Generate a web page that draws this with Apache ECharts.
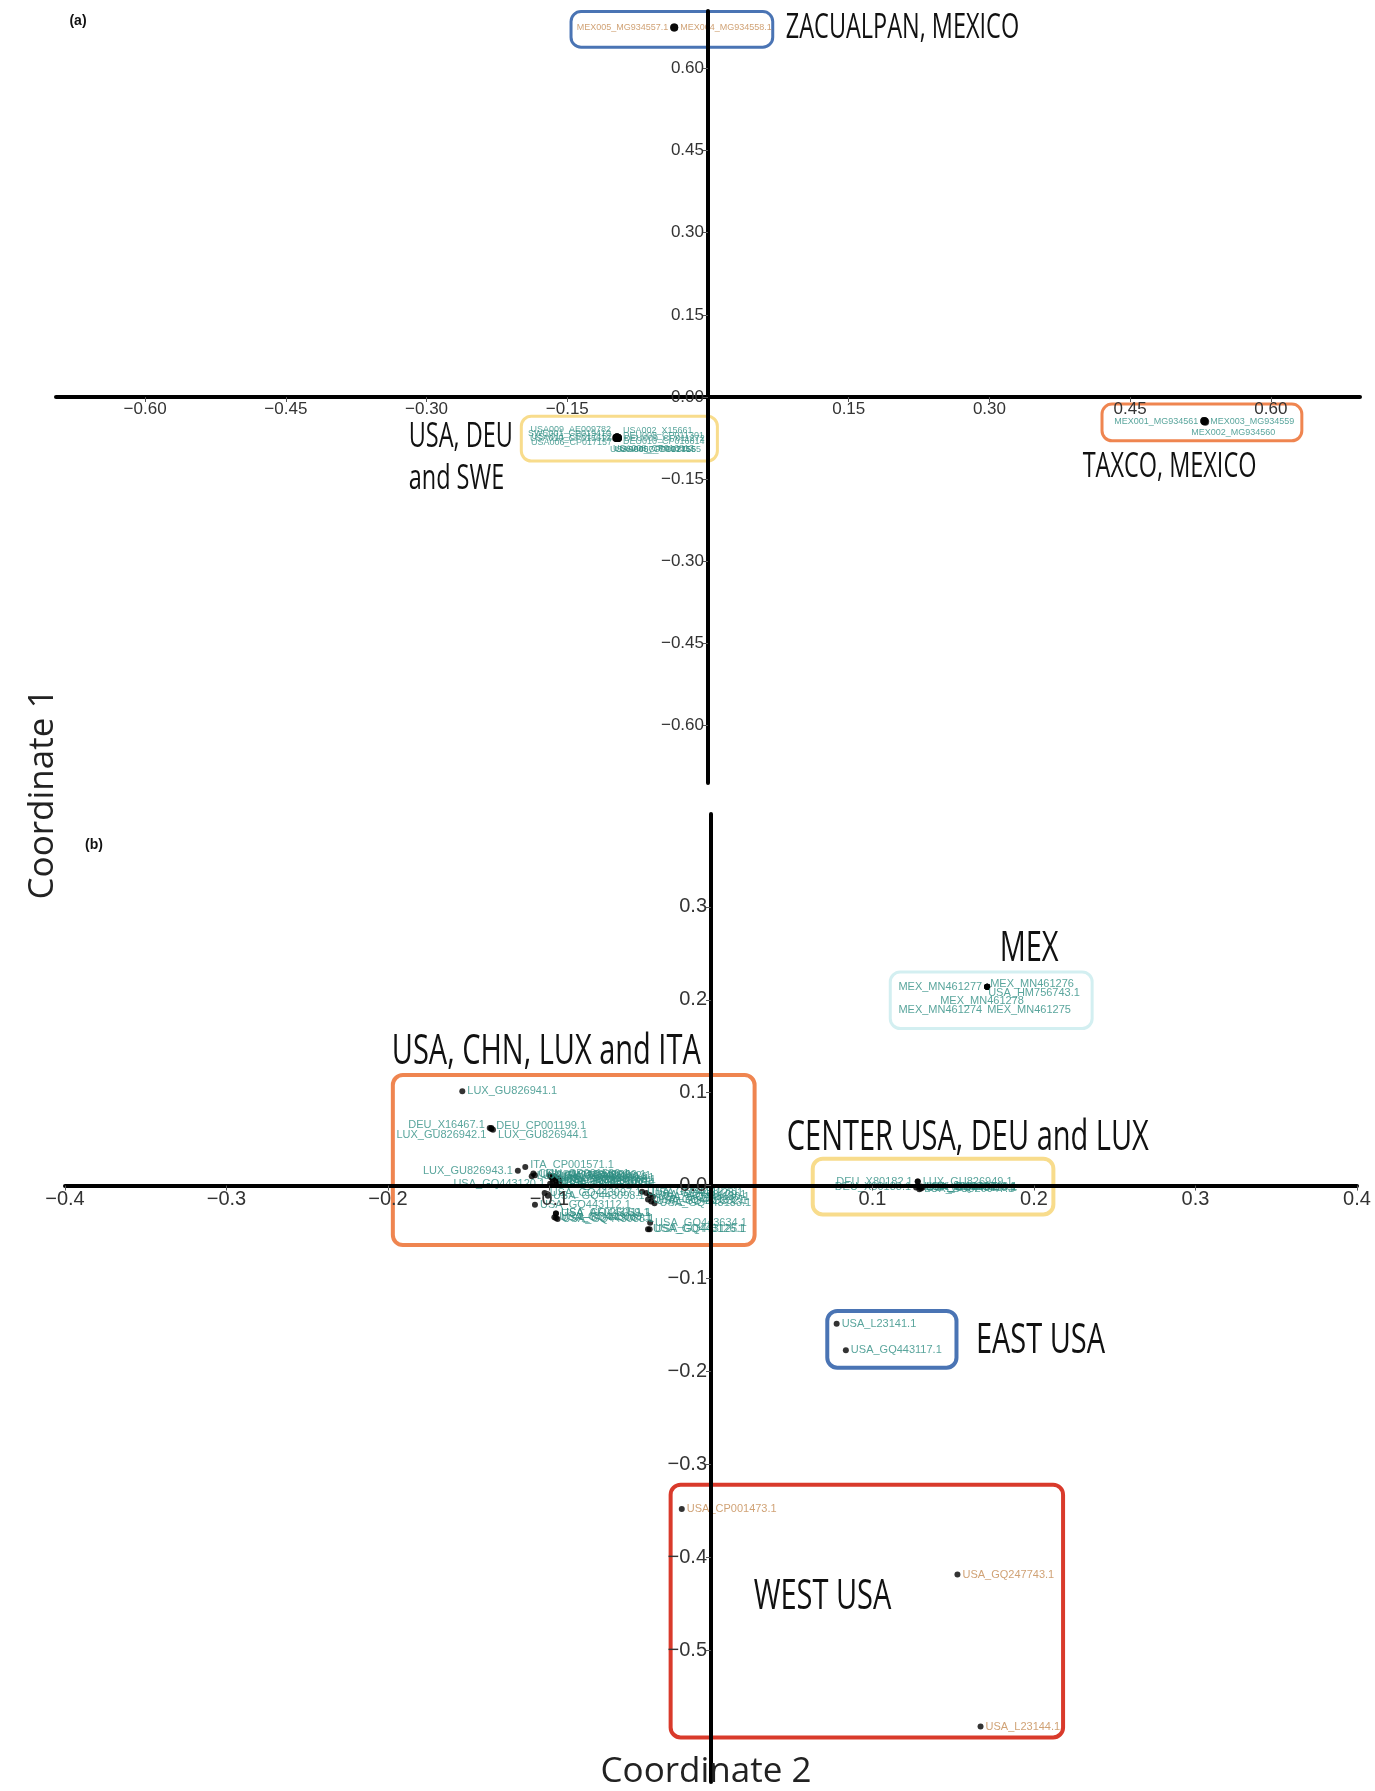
<!DOCTYPE html>
<html>
<head>
<meta charset="utf-8">
<title>MDS coordinates</title>
<script src="https://cdn.jsdelivr.net/npm/echarts@6/dist/echarts.min.js"></script>
<style>
  html, body { margin: 0; padding: 0; background: #ffffff; }
  #chart { width: 1375px; height: 1791px; }
</style>
</head>
<body>
<div id="chart"></div>
<script>
// ---------- Panel (a): tick values ----------
const aTicksC2 = [-0.60, -0.45, -0.30, -0.15, 0.15, 0.30, 0.45, 0.60];
const aTicksC1 = [-0.60, -0.45, -0.30, -0.15, 0.00, 0.15, 0.30, 0.45, 0.60];

// Panel (a): Zacualpan isolates
const aZacNames = ['MEX005_MG934557.1', 'MEX004_MG934558.1'];
const aZacC2 = [-0.036, -0.036];
const aZacC1 = [0.675, 0.675];

// Panel (a): Taxco isolates
const aTaxNames = ['MEX001_MG934561', 'MEX003_MG934559', 'MEX002_MG934560'];
const aTaxC2 = [0.529, 0.529, 0.530];
const aTaxC1 = [-0.044, -0.044, -0.045];

// Panel (a): USA, DEU and SWE isolates
const aNorNames = ['USA009_AE009782', 'SWE001_CP019410', 'USA011_CP017152', 'USA010_CP015612', 'USA006_CP017157',
                   'USA002_X15661', 'DEU008_CP011301', 'DEU009_CP011272', 'DEU010_CP016814',
                   'USA004_CP019245', 'USA005_CP017156', 'USA007_CP017155', 'USA008_CP016813'];
const aNorC2 = [-0.097, -0.097, -0.096, -0.097, -0.096,
                -0.097, -0.097, -0.096, -0.097,
                -0.098, -0.097, -0.096, -0.097];
const aNorC1 = [-0.074, -0.075, -0.075, -0.074, -0.075,
                -0.074, -0.075, -0.075, -0.074,
                -0.075, -0.074, -0.075, -0.075];

// ---------- Panel (b): tick values ----------
const bTicksC2 = [-0.4, -0.3, -0.2, -0.1, 0.1, 0.2, 0.3, 0.4];
const bTicksC1 = [-0.5, -0.4, -0.3, -0.2, -0.1, 0.0, 0.1, 0.2, 0.3];

// Panel (b): Mexican isolates
const bMexNames = ['MEX_MN461277', 'MEX_MN461276', 'USA_HM756743.1', 'MEX_MN461278', 'MEX_MN461274', 'MEX_MN461275'];
const bMexC2 = [0.171, 0.171, 0.171, 0.171, 0.171, 0.171];
const bMexC1 = [0.214, 0.214, 0.214, 0.214, 0.214, 0.214];

// Panel (b): USA, CHN, LUX and ITA isolates
const bMixNames = ['LUX_GU826941.1', 'DEU_X16467.1', 'DEU_CP001199.1', 'LUX_GU826942.1', 'LUX_GU826944.1',
                   'LUX_GU826943.1', 'ITA_CP001571.1', 'CHN_CP001580.1', 'USA_GQ443096.1', 'LUX_GU826945.1',
                   'USA_GQ443120.1',
                   'USA_GQ443099.1', 'USA_GQ443100.1', 'USA_GQ443101.1', 'USA_GQ443102.1', 'USA_GQ443103.1',
                   'USA_GQ443104.1', 'USA_GQ443105.1', 'USA_GQ443106.1', 'USA_GQ443107.1', 'USA_GQ443108.1',
                   'USA_GQ443097.1', 'USA_GQ443098.1',
                   'USA_GQ443112.1', 'USA_GQ443111.1', 'USA_AF026059.1',
                   'USA_GQ443087.1', 'USA_GQ443088.1', 'USA_GQ443089.1',
                   'USA_GQ443127.1', 'USA_GQ443128.1', 'USA_GQ443129.1', 'USA_GQ443130.1', 'USA_GQ443131.1',
                   'USA_GQ443132.1', 'USA_GQ443133.1',
                   'USA_GQ443634.1', 'USA_GQ443126.1', 'USA_GQ443125.1'];
const bMixC2 = [-0.154, -0.137, -0.136, -0.136, -0.135,
                -0.1196, -0.115, -0.110, -0.109, -0.111,
                -0.0996,
                -0.100, -0.099, -0.098, -0.097, -0.096,
                -0.095, -0.094, -0.098, -0.096, -0.094,
                -0.103, -0.101,
                -0.109, -0.096, -0.096,
                -0.096, -0.095, -0.097,
                -0.0427, -0.040, -0.038, -0.036, -0.039,
                -0.037, -0.035,
                -0.0377, -0.039, -0.038];
const bMixC1 = [0.1015, 0.062, 0.062, 0.061, 0.060,
                0.016, 0.020, 0.013, 0.011, 0.010,
                0.002,
                0.011, 0.009, 0.007, 0.010, 0.005,
                0.008, 0.003, 0.004, 0.001, 0.006,
                -0.008, -0.011,
                -0.0205, -0.030, -0.030,
                -0.035, -0.036, -0.034,
                -0.0065, -0.008, -0.010, -0.012, -0.015,
                -0.017, -0.019,
                -0.040, -0.047, -0.047];

// Panel (b): central USA, DEU and LUX isolates
const bCenNames = ['DEU_X80182.1', 'LUX_GU826949.1', 'DEU_X80183.1', 'USA_L23142.1', 'USA_GQ443113.1',
                   'LUX_GU826946.1', 'LUX_GU826947.1', 'LUX_GU826948.1'];
const bCenC2 = [0.128, 0.128, 0.127, 0.129, 0.130, 0.131, 0.129, 0.130];
const bCenC1 = [0.0043, 0.0043, -0.002, -0.001, -0.003, -0.002, -0.004, -0.001];

// Panel (b): eastern USA isolates
const bEastNames = ['USA_L23141.1', 'USA_GQ443117.1'];
const bEastC2 = [0.0778, 0.0835];
const bEastC1 = [-0.1486, -0.1773];

// Panel (b): western USA isolates
const bWestNames = ['USA_CP001473.1', 'USA_GQ247743.1', 'USA_L23144.1'];
const bWestC2 = [-0.0181, 0.1526, 0.1669];
const bWestC1 = [-0.348, -0.4187, -0.5823];

// ---------- label placement (side of the point, pixel nudge) ----------
const aZacSide = ['L', 'R'];
const aTaxSide = ['L', 'R', 'R'];
const aTaxNudge = [[0, 0], [0, 0], [-20, 11]];
const aNorSide = ['L', 'L', 'L', 'L', 'L', 'R', 'R', 'R', 'R', 'R', 'R', 'R', 'R'];
const aNorNudge = [[0, -8], [0, -5], [0, -2], [0, 1], [0, 4],
                   [0, -7], [0, -3], [0, 0], [0, 4],
                   [-12, 11], [-8, 12], [-4, 11], [-10, 10]];
const bMexSide = ['L', 'R', 'R', 'R', 'L', 'R'];
const bMexNudge = [[0, 0], [-2, -3], [-4, 6], [-52, 14], [0, 23], [-5, 23]];
const bMixSide = ['R', 'L', 'R', 'L', 'R', 'L', 'R', 'R', 'R', 'R', 'L'];
const bMixNudge = [[0, 0], [0, -3], [0, -2], [0, 6], [0, 5], [0, 0], [0, -2]];
const bCenSide = ['L', 'R', 'L'];

// ---------- annotation boxes and group titles (data units) ----------
const BLUE = '#4a74b4', ORANGE = '#ef8550', YELLOW = '#f8dc8c', CYAN = '#d3eff1', RED = '#d93a2b';
const boxes = [
  { p: 0, x: [-0.146, 0.069], y: [0.639, 0.704], c: BLUE, w: 3 },
  { p: 0, x: [0.420, 0.633], y: [-0.080, -0.013], c: ORANGE, w: 3 },
  { p: 0, x: [-0.199, 0.010], y: [-0.117, -0.035], c: YELLOW, w: 3 },
  { p: 1, x: [-0.197, 0.027], y: [-0.064, 0.119], c: ORANGE, w: 4 },
  { p: 1, x: [0.111, 0.236], y: [0.169, 0.230], c: CYAN, w: 3 },
  { p: 1, x: [0.063, 0.212], y: [-0.031, 0.029], c: YELLOW, w: 4 },
  { p: 1, x: [0.072, 0.152], y: [-0.196, -0.135], c: BLUE, w: 4 },
  { p: 1, x: [-0.025, 0.218], y: [-0.594, -0.322], c: RED, w: 4 }
];
const titles = [
  { p: 0, t: 'ZACUALPAN, MEXICO', x: 0.083, y: 0.673, a: 'left' },
  { p: 0, t: 'TAXCO, MEXICO', x: 0.492, y: -0.128, a: 'center' },
  { p: 0, t: 'USA, DEU', x: -0.319, y: -0.073, a: 'left' },
  { p: 0, t: 'and SWE', x: -0.319, y: -0.151, a: 'left' },
  { p: 1, t: 'MEX', x: 0.197, y: 0.255, a: 'center' },
  { p: 1, t: 'USA, CHN, LUX and ITA', x: -0.102, y: 0.144, a: 'center' },
  { p: 1, t: 'CENTER USA, DEU and LUX', x: 0.159, y: 0.051, a: 'center' },
  { p: 1, t: 'EAST USA', x: 0.204, y: -0.167, a: 'center' },
  { p: 1, t: 'WEST USA', x: 0.069, y: -0.443, a: 'center' }
];
const titleSize = [34, 42];

const TEAL = '#2f8f83';
const BROWN = '#c48b52';
const LABEL_FONT = '"Liberation Sans", Arial, sans-serif';
const TITLE_FONT = '"Open Sans", "Noto Sans", sans-serif';

const fmt = (d) => (v) => (v < 0 ? '\u2212' : '') + Math.abs(v).toFixed(d);

function pointSeries(panel, names, c2, c1, side, nudge, color, fontSize, symbolSize) {
  return {
    type: 'scatter',
    xAxisIndex: panel,
    yAxisIndex: panel,
    z: 2,
    symbolSize: symbolSize,
    itemStyle: { color: '#000000' },
    label: { show: true, formatter: '{b}', color: color, fontSize: fontSize, fontFamily: LABEL_FONT, distance: 2 },
    emphasis: { disabled: true },
    data: names.map((n, i) => ({
      name: n,
      value: [c2[i], c1[i]],
      label: {
        position: (side && side[i] === 'L') ? 'left' : 'right',
        offset: (nudge && nudge[i]) ? nudge[i] : [0, 0]
      }
    }))
  };
}

// The axes cross at the origin: each axis is shifted from the grid edge to
// the zero of the other axis, so that its ticks and labels travel with it.
function axisPair(panel, grid, cfg) {
  const common = {
    type: 'value',
    gridIndex: panel,
    z: 5,
    splitLine: { show: false },
    axisLine: { onZero: false, lineStyle: { color: '#000000', width: 4 } },
    axisTick: { length: 5, lineStyle: { color: '#555555', width: 1 } }
  };
  const xShift = grid.height * (0 - cfg.yMin) / (cfg.yMax - cfg.yMin);
  const yShift = grid.width * (0 - cfg.xMin) / (cfg.xMax - cfg.xMin);
  const x = Object.assign({}, common, {
    position: 'bottom', offset: -xShift,
    min: cfg.xMin, max: cfg.xMax,
    axisTick: Object.assign({}, common.axisTick, { customValues: cfg.xTicks }),
    axisLabel: { customValues: cfg.xTicks, formatter: fmt(cfg.dec), color: '#333333', fontSize: cfg.fs, fontFamily: LABEL_FONT, margin: 4 }
  });
  const y = Object.assign({}, common, {
    position: 'left', offset: -yShift,
    min: cfg.yMin, max: cfg.yMax,
    axisTick: Object.assign({}, common.axisTick, { customValues: cfg.yTicks }),
    axisLabel: { customValues: cfg.yTicks, formatter: fmt(cfg.dec), color: '#333333', fontSize: cfg.fs, fontFamily: LABEL_FONT, margin: 4 }
  });
  return [x, y];
}

const gridA = { left: 56, width: 1304, top: 11, height: 772 };
const gridB = { left: 65, width: 1292, top: 814, height: 968 };

const [ax0, ay0] = axisPair(0, gridA, { xMin: -0.695, xMax: 0.695, yMin: -0.705, yMax: 0.705, xTicks: aTicksC2, yTicks: aTicksC1, dec: 2, fs: 17 });
const [ax1, ay1] = axisPair(1, gridB, { xMin: -0.4, xMax: 0.4, yMin: -0.642, yMax: 0.40, xTicks: bTicksC2, yTicks: bTicksC1, dec: 1, fs: 20 });

const chart = echarts.init(document.getElementById('chart'), null, { renderer: 'canvas' });

chart.setOption({
  animation: false,
  backgroundColor: '#ffffff',
  grid: [gridA, gridB],
  xAxis: [ax0, ax1],
  yAxis: [ay0, ay1],
  series: [
    pointSeries(0, aZacNames, aZacC2, aZacC1, aZacSide, null, BROWN, 9, 8),
    pointSeries(0, aTaxNames, aTaxC2, aTaxC1, aTaxSide, aTaxNudge, TEAL, 9, 8),
    pointSeries(0, aNorNames, aNorC2, aNorC1, aNorSide, aNorNudge, TEAL, 9, 8),
    pointSeries(1, bMexNames, bMexC2, bMexC1, bMexSide, bMexNudge, TEAL, 11, 6),
    pointSeries(1, bMixNames, bMixC2, bMixC1, bMixSide, bMixNudge, TEAL, 11, 6),
    pointSeries(1, bCenNames, bCenC2, bCenC1, bCenSide, null, TEAL, 11, 6),
    pointSeries(1, bEastNames, bEastC2, bEastC1, null, null, TEAL, 11, 6),
    pointSeries(1, bWestNames, bWestC2, bWestC1, null, null, BROWN, 11, 6)
  ]
});

// Boxes and group titles are placed through the panels' own scales.
const toPx = (p, x, y) => chart.convertToPixel({ xAxisIndex: p, yAxisIndex: p }, [x, y]);
const graphics = [];
boxes.forEach((b) => {
  const p1 = toPx(b.p, b.x[0], b.y[1]);
  const p2 = toPx(b.p, b.x[1], b.y[0]);
  graphics.push({
    type: 'rect', z: 1, silent: true,
    shape: { x: p1[0], y: p1[1], width: p2[0] - p1[0], height: p2[1] - p1[1], r: 10 },
    style: { fill: null, stroke: b.c, lineWidth: b.w }
  });
});
// Group titles use a horizontally condensed face.
titles.forEach((t) => {
  const p = toPx(t.p, t.x, t.y);
  graphics.push({
    type: 'text', z: 10, silent: true, x: p[0], y: p[1], scaleX: 0.69,
    style: { text: t.t, fill: '#111111', font: titleSize[t.p] + 'px ' + TITLE_FONT, align: t.a, verticalAlign: 'middle' }
  });
});
graphics.push(
  { type: 'text', z: 10, x: 78, y: 21, style: { text: '(a)', fill: '#111', font: 'bold 14px ' + LABEL_FONT, align: 'center', verticalAlign: 'middle' } },
  { type: 'text', z: 10, x: 94, y: 845, style: { text: '(b)', fill: '#111', font: 'bold 14px ' + LABEL_FONT, align: 'center', verticalAlign: 'middle' } },
  { type: 'text', z: 10, x: 43, y: 794, rotation: Math.PI / 2, style: { text: 'Coordinate 1', fill: '#222', font: '35px "Open Sans", "Noto Sans", sans-serif', align: 'center', verticalAlign: 'middle' } },
  { type: 'text', z: 10, x: 706, y: 1772, style: { text: 'Coordinate 2', fill: '#222', font: '35px "Open Sans", "Noto Sans", sans-serif', align: 'center', verticalAlign: 'middle' } }
);
chart.setOption({ graphic: graphics });
</script>
</body>
</html>
